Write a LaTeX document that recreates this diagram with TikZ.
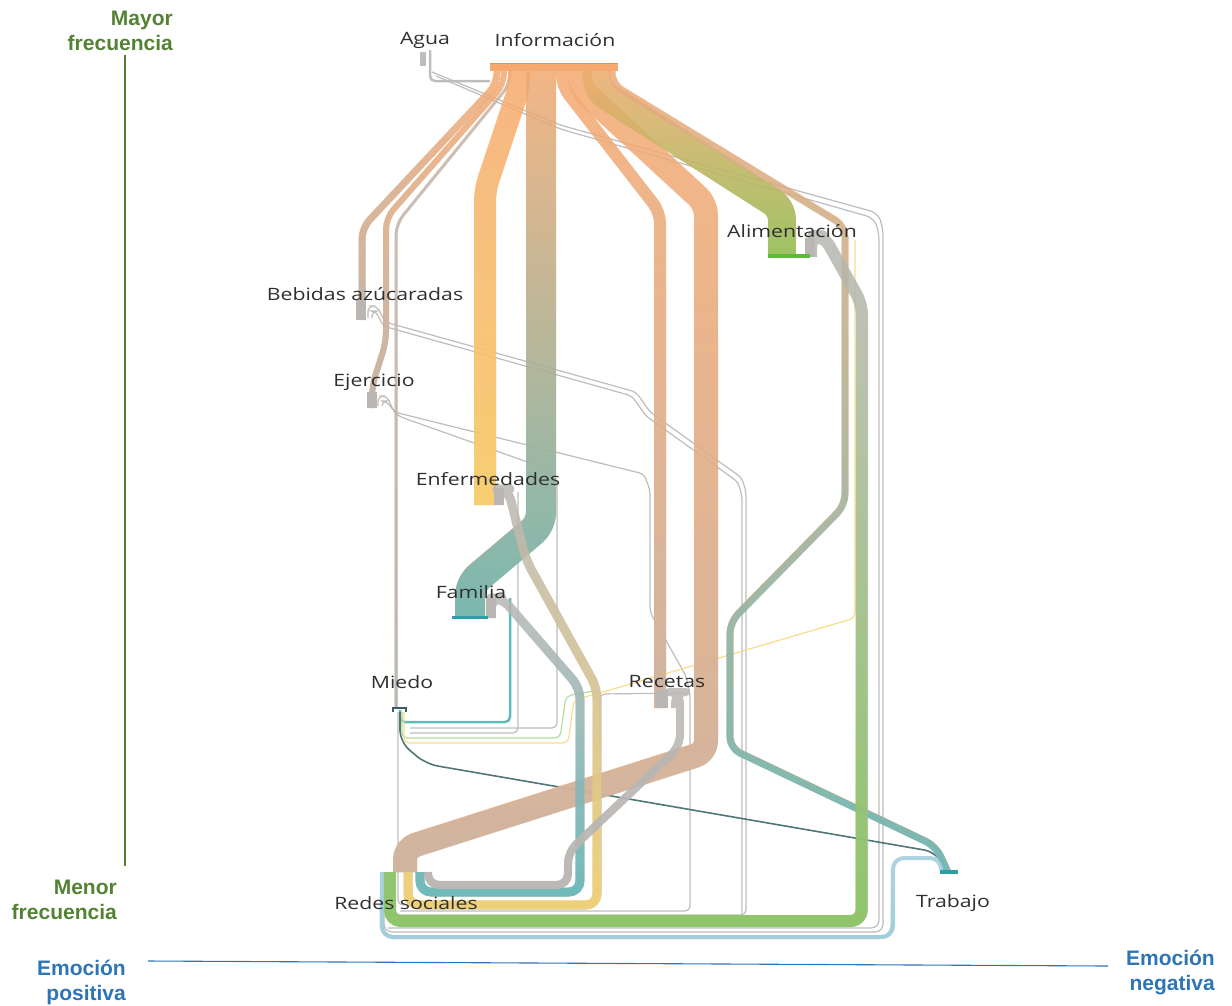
\documentclass[tikz,border=0pt]{standalone}
\usepackage{fontspec}
\setmainfont{Liberation Sans}
\newfontfamily\labfont[FakeStretch=1.25]{Open Sans}
\usetikzlibrary{fadings}
\tikzfading[name=fadedown, top color=transparent!100, bottom color=transparent!0]

\definecolor{infoorange}{HTML}{F6A96F}
\definecolor{infodark}{HTML}{EE9246}
\definecolor{flowgray}{HTML}{B9B6B3}
\definecolor{flowtan}{HTML}{C9B5A6}
\definecolor{flowyellow}{HTML}{F8D46E}
\definecolor{flowteal}{HTML}{62B9BA}
\definecolor{flowgreen}{HTML}{86C75C}
\definecolor{flowblue}{HTML}{9FCCDA}
\definecolor{bargreen}{HTML}{5DBB3A}
\definecolor{barteal}{HTML}{2E9FA6}
\definecolor{thingray}{HTML}{BDBDBD}
\definecolor{darkline}{HTML}{4F7679}
\definecolor{axisgreen}{HTML}{548235}
\definecolor{axisblue}{HTML}{2E75B6}
\definecolor{labtext}{HTML}{2F2F2F}

\tikzset{
  flowstyle/.style={rounded corners=11pt, line join=round, opacity=0.85},
  thinflow/.style={rounded corners=5pt, line width=1.2pt, draw=thingray},
  nodelabel/.style={font=\fontsize{17}{20}\labfont, text=labtext, inner sep=0pt},
  axislabel/.style={font=\fontsize{21}{25}\selectfont\bfseries, align=right, inner sep=0pt},
}

% a flow band: width, colour at its top, colour at its bottom, path
\newcommand\flowband[4]{%
  \draw[line width=#1, draw=#2, flowstyle] #4;
  \draw[line width=#1, draw=#3, flowstyle, path fading=fadedown] #4;
}

\begin{document}
\begin{tikzpicture}[x=1pt, y=-1pt]
\useasboundingbox (0,0) rectangle (1232,1005);

% ---------- axes ----------
\node[axislabel, text=axisgreen, anchor=north east] (mayor) at (173,11) {Mayor\\frecuencia};
\node[axislabel, text=axisgreen, anchor=north east] (menor) at (117,880) {Menor\\frecuencia};
\node[axislabel, text=axisblue, anchor=north east] (epos) at (126,960) {Emoción\\positiva};
\node[axislabel, text=axisblue, anchor=north east] (eneg) at (1215,950) {Emoción\\negativa};
\coordinate (vtop) at (125,55);
\coordinate (vbot) at (125,866);
\coordinate (hleft) at (148,961);
\coordinate (hright) at (1108,966);
\draw[axisgreen, line width=1.3pt] (vtop) -- (vbot);
\draw[axisblue, line width=1.1pt] (hleft) -- (hright);

% ---------- thin connectors ----------
% Agua
\draw[thinflow, line width=2.5pt] (430,50) -- (430,81) -- (490,81);
\draw[thinflow, rounded corners=8pt] (432,72) -- (560,125) -- (878,213) -- (883,228) -- (883,932) -- (384,932) -- (384,872);
\draw[thinflow, rounded corners=8pt] (436,76) -- (560,129) -- (874,218) -- (879,232) -- (879,928) -- (388,928);
% Bebidas azucaradas
\draw[thinflow] (368,318) -- (368,306) -- (377,306) -- (385,322) -- (636,392) -- (650,412) -- (742,478) -- (746,492) -- (746,915) -- (396,915);
\draw[thinflow] (372,318) -- (372,311) -- (376,311) -- (383,326) -- (632,396) -- (646,416) -- (738,482) -- (742,496) -- (742,917);
% Ejercicio
\draw[thinflow] (378,406) -- (378,396) -- (387,396) -- (394,412) -- (644,474) -- (650,490) -- (650,612) -- (686,676) -- (690,694) -- (690,911) -- (400,911);
\draw[thinflow] (382,406) -- (382,401) -- (386,401) -- (398,416) -- (550,470) -- (557,480) -- (557,728) -- (410,728);
\draw[thinflow] (518,492) -- (518,733) -- (410,733);
% Miedo bundle
\draw[thinflow, draw=flowteal, line width=2.5pt] (400,710) -- (400,722) -- (510,722) -- (510,598);
\draw[thinflow, draw=flowgreen!60] (402,712) -- (402,738) -- (560,738) -- (566,696) -- (600,690);
\draw[thinflow, draw=flowyellow!80] (404,712) -- (404,743) -- (568,743) -- (574,700) -- (610,690) -- (855,618) -- (855,240);
\draw[thinflow, draw=thingray] (600,748) -- (600,694) -- (688,693);
\draw[thinflow, draw=thingray] (398,712) -- (398,905) -- (404,905);
\draw[darkline, line width=1.6pt, rounded corners=12pt] (400,712) -- (400,742) -- (426,764) -- (936,852) -- (944,866);

% ---------- flow bands ----------
% Informacion -> Bebidas azucaradas
\flowband{7pt}{infoorange}{flowgray}{(497,68) -- (497,84) -- (362,228) -- (362,320)}
% Informacion -> Ejercicio
\flowband{6pt}{infoorange}{flowgray}{(504,68) -- (504,84) -- (386,218) -- (386,342) -- (372,386) -- (372,408)}
% Informacion -> Miedo
\flowband{3pt}{flowtan}{flowgray}{(510,68) -- (510,84) -- (396,224) -- (396,708)}
% Informacion -> Enfermedades
\flowband{22pt}{infoorange}{flowyellow}{(519,68) -- (519,88) -- (485,190) -- (485,505)}
% Informacion -> Familia
\flowband{30pt}{infoorange}{flowteal}{(541,68) -- (541,524) -- (470,584) -- (470,618)}
% Informacion -> Recetas
\flowband{12pt}{infoorange}{flowtan}{(562,68) -- (562,86) -- (660,212) -- (660,708)}
% Informacion -> Redes sociales
\flowband{24pt}{infoorange}{flowtan}{(580,68) -- (580,88) -- (706,204) -- (706,752) -- (405,848) -- (405,872)}
% Informacion -> Alimentacion
\flowband{28pt}{infoorange}{flowgreen}{(597,68) -- (597,90) -- (782,208) -- (782,257)}
% Informacion -> Trabajo
\flowband{7pt}{infoorange!80!flowtan}{flowteal}{(612,68) -- (612,84) -- (845,226) -- (845,505) -- (730,622) -- (730,748) -- (936,846) -- (948,872)}
% Alimentacion -> Redes sociales
\flowband{12pt}{flowgray}{flowgreen}{(811,257) -- (811,236) -- (824,236) -- (862,304) -- (862,921) -- (390,921) -- (390,872)}
% Trabajo -> Redes sociales
\flowband{4pt}{flowblue}{flowblue}{(941,870) -- (941,858) -- (893,858) -- (893,937) -- (382,937) -- (382,872)}
% Familia -> Redes sociales
\flowband{9pt}{flowgray}{flowteal}{(491,618) -- (491,598) -- (502,598) -- (580,688) -- (580,892) -- (420,892) -- (420,872)}
% Enfermedades -> Redes sociales
\flowband{9pt}{flowgray}{flowyellow}{(499,505) -- (499,489) -- (508,489) -- (526,560) -- (597,688) -- (597,905) -- (408,905) -- (408,872)}
% Recetas -> Redes sociales
\flowband{8pt}{flowgray}{flowgray}{(675,708) -- (675,692) -- (680,692) -- (680,746) -- (568,852) -- (568,885) -- (428,885) -- (428,872)}

% ---------- node bars ----------
\fill[thingray] (420,52) rectangle (426,66);
\fill[infoorange] (490,63) rectangle (618,71);
\draw[infodark, line width=1.2pt] (490,63.5) -- (618,63.5);
\fill[flowgray] (805,238) rectangle (815,257);
\fill[bargreen] (768,254) rectangle (810,258);
\fill[flowgray] (356,300) rectangle (366,320);
\fill[flowgray] (367,392) rectangle (377,408);
\fill[flowgray] (494,488) rectangle (504,505);
\fill[flowgray] (486,598) rectangle (496,618);
\fill[barteal] (452,616) rectangle (488,619);
\draw[darkline!80!black, line width=1.5pt] (393,712) -- (393,708) -- (406,708) -- (406,712);
\fill[flowgray] (656,690) rectangle (668,708);
\fill[barteal] (940,870) rectangle (958,874);

% ---------- node labels ----------
\node[nodelabel] (agua) at (425,40) {Agua};
\node[nodelabel] (info) at (555,40) {Información};
\node[nodelabel] (alim) at (792,231) {Alimentación};
\node[nodelabel] (bebidas) at (365,294) {Bebidas azúcaradas};
\node[nodelabel] (ejer) at (374,382) {Ejercicio};
\node[nodelabel] (enf) at (488,479) {Enfermedades};
\node[nodelabel] (fam) at (471,592) {Familia};
\node[nodelabel] (miedo) at (402,682) {Miedo};
\node[nodelabel] (recetas) at (667,682) {Recetas};
\node[nodelabel] (redes) at (406,903) {Redes sociales};
\node[nodelabel] (trabajo) at (953,903) {Trabajo};
\end{tikzpicture}
\end{document}
